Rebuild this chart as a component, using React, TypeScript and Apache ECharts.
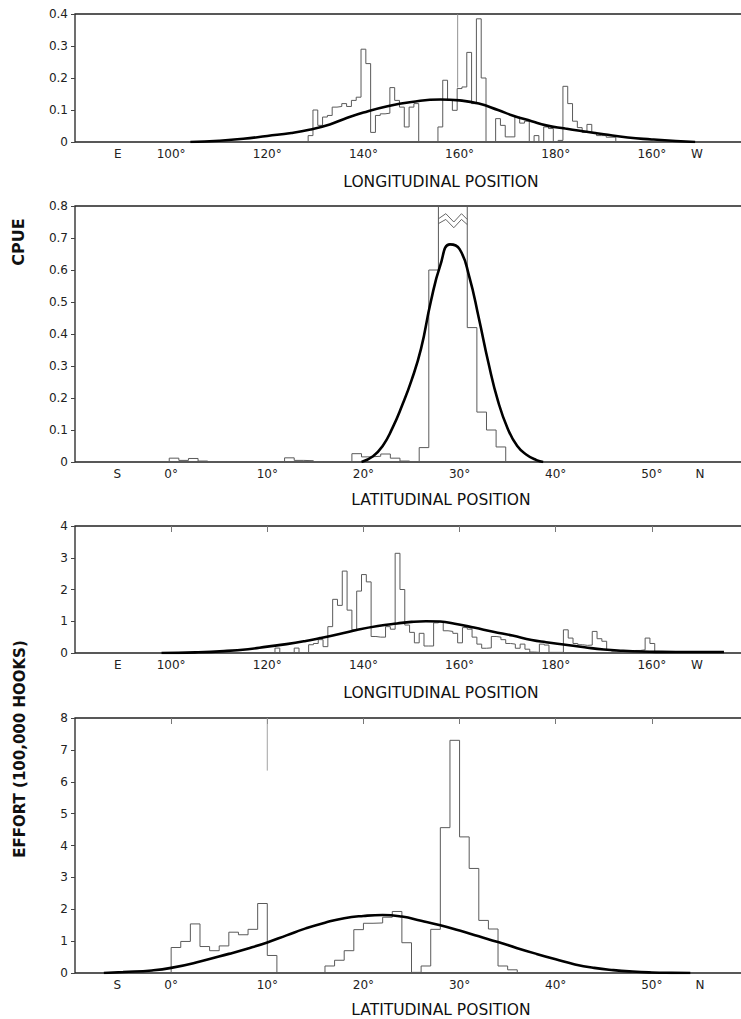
import React, { useEffect, useRef } from "react";
import * as echarts from "echarts";

// ---------- axis labels ----------
const LON_LABEL_VALUES = [88.9, 100, 120, 140, 160, 180, 200, 209.4];
const LAT_LABEL_VALUES = [-5.6, 0, 10, 20, 30, 40, 50, 55];
const LON_TOP_TICKS = [100, 120, 140, 160, 180, 200];
const LAT_TOP_TICKS = [0, 10, 20, 30, 40, 50];

// ---------- Panel 1: CPUE by longitude (1-degree bins, first left edge) ----------
const cpueLonStart = 128.5;
const cpueLonValues = [
  0.02, 0.1, 0.052, 0.078, 0.083, 0.109, 0.111, 0.12, 0.111, 0.13, 0.14, 0.29, 0.245,
  0.03, 0.083, 0.088, 0.09, 0.17, 0.13, 0.109, 0.047, 0.109, 0.12, 0, 0, 0, 0, 0.047,
  0.193, 0.13, 0.099, 0.167, 0.172, 0.28, 0.12, 0.385, 0.2, 0, 0, 0.073, 0.052, 0.016,
  0.016, 0.078, 0.059, 0.065, 0, 0.02, 0, 0.047, 0.042, 0, 0.005, 0.174, 0.12, 0.065,
  0.045, 0.03, 0.055, 0.03, 0.02, 0.02, 0.015, 0.015,
];
const cpueLonCurve = [
  [104, 0], [110, 0.004], [115, 0.01], [120, 0.019], [125, 0.028], [129, 0.039],
  [133, 0.055], [136, 0.072], [140, 0.092], [145, 0.112], [150, 0.125], [156, 0.133],
  [160, 0.13], [164, 0.12], [168, 0.1], [171, 0.083], [175, 0.065], [178, 0.052],
  [182, 0.042], [185, 0.035], [190, 0.024], [195, 0.014], [200, 0.008], [205, 0.003], [209, 0],
];

// ---------- Panel 2: CPUE by latitude ----------
const cpueLatStart = -0.2;
const cpueLatValues = [
  0.012, 0.005, 0.011, 0.003, 0, 0, 0, 0, 0, 0, 0, 0, 0.013, 0.005, 0.004, 0, 0, 0, 0,
  0.026, 0.016, 0.018, 0.025, 0.012, 0.003, 0, 0.045, 0.6, 0.95, 1.05, 0.95, 0.42,
  0.156, 0.1, 0.047,
];
const cpueLatCurve = [
  [19.8, 0], [21, 0.018], [22, 0.05], [23, 0.105], [24, 0.175], [25, 0.255], [26, 0.355],
  [27, 0.5], [28, 0.615], [29, 0.68], [30, 0.665], [31, 0.58], [32, 0.45], [33, 0.31],
  [34, 0.19], [35, 0.105], [36, 0.05], [37, 0.022], [38, 0.006], [38.7, 0],
];
const breakUpper = [[27.8, 0.76], [28.57, 0.776], [29.4, 0.75], [30.2, 0.776], [30.8, 0.758]];
const breakLower = [[27.8, 0.745], [28.57, 0.758], [29.4, 0.732], [30.2, 0.758], [30.8, 0.742]];

// ---------- Panel 3: Effort by longitude ----------
const effLonStart = 121.6;
const effLonValues = [
  0.155, 0, 0, 0, 0.155, 0, 0, 0.26, 0.3, 0.42, 0.2, 0.83, 1.69, 1.5, 2.58, 1.35, 0.73,
  1.95, 2.47, 2.24, 0.52, 0.5, 0.5, 0.83, 0.75, 3.14, 2.0, 0.88, 0.65, 0.32, 0.62, 0.22,
  0.22, 0.95, 0.98, 0.7, 0.68, 0.62, 0.32, 0.8, 0.75, 0.5, 0.28, 0.15, 0.16, 0.52, 0.5,
  0.42, 0.3, 0.28, 0.15, 0.28, 0.12, 0.03, 0.02, 0.28, 0.25, 0.02, 0.02, 0.02, 0.73,
  0.47, 0.3, 0.26, 0.24, 0.25, 0.68, 0.45, 0.37, 0.1, 0.06, 0.05, 0.05, 0.04, 0.03,
  0.08, 0.1, 0.47, 0.3, 0.05,
];
const effLonCurve = [
  [98, 0], [105, 0.02], [111, 0.06], [116, 0.12], [120, 0.2], [124, 0.28], [128, 0.38],
  [131, 0.47], [135, 0.6], [139, 0.74], [143, 0.85], [147, 0.93], [150, 0.98], [153, 1.0],
  [156, 0.99], [159, 0.92], [163, 0.8], [167, 0.67], [171, 0.55], [175, 0.41], [178, 0.34],
  [182, 0.26], [186, 0.18], [190, 0.11], [194, 0.07], [198, 0.045], [202, 0.035],
  [208, 0.03], [215, 0.03],
];

// ---------- Panel 4: Effort by latitude ----------
const effLatStart = 0;
const effLatValues = [
  0.8, 0.99, 1.54, 0.83, 0.7, 0.85, 1.28, 1.2, 1.37, 2.18, 0.55, 0, 0, 0, 0, 0, 0.22,
  0.4, 0.7, 1.36, 1.56, 1.57, 1.75, 1.93, 0.95, 0.02, 0.22, 1.37, 4.56, 7.3, 4.27, 3.28,
  1.65, 1.38, 0.22, 0.1,
];
const effLatCurve = [
  [-7, 0], [-5, 0.03], [-2, 0.08], [0, 0.16], [3, 0.36], [6, 0.6], [8, 0.77], [10, 0.96],
  [12, 1.18], [14, 1.4], [16, 1.58], [18, 1.72], [20, 1.79], [22, 1.82], [24, 1.77],
  [26, 1.64], [28, 1.5], [30, 1.33], [32, 1.15], [34, 0.97], [36, 0.78], [38, 0.6],
  [40, 0.43], [42, 0.27], [44, 0.16], [46, 0.09], [48, 0.045], [50, 0.018], [52, 0.005], [54, 0],
];

// scan artefact lines (thin vertical strokes reaching the top border)
const artefact1 = [[159.6, 0.17], [159.6, 0.4]];
const artefact4 = [[10, 6.35], [10, 8]];

const BIN = 1;

function histPoints(start: number, width: number, values: number[]) {
  const pts: number[][] = [[start, 0]];
  values.forEach((v, i) => {
    const a = start + i * width;
    pts.push([a, v], [a + width, v]);
  });
  pts.push([start + values.length * width, 0]);
  return pts;
}

const FONT = "DejaVu Sans";

export default function App() {
  const ref = useRef<HTMLDivElement>(null);
  useEffect(() => {
    if (!ref.current) return;
    const chart = echarts.init(ref.current, undefined, { renderer: "svg" });

    const grids = [
      { top: 14, height: 128 },
      { top: 206, height: 256 },
      { top: 526, height: 127 },
      { top: 718, height: 255 },
    ].map((g) => ({
      left: 75,
      right: 2,
      top: g.top,
      height: g.height,
      show: true,
      borderColor: "#222",
      borderWidth: 1.3,
      backgroundColor: "transparent",
    }));

    const lonFmt = (v: number) =>
      v < 95 ? "E" : v > 205 ? "W" : (v <= 180 ? Math.round(v) : Math.round(360 - v)) + "°";
    const latFmt = (v: number) => (v < -3 ? "S" : v > 52 ? "N" : Math.round(v) + "°");

    const isLon = [true, false, true, false];
    const xAxes: any[] = [];
    isLon.forEach((lon, i) => {
      xAxes.push({
        type: "value",
        gridIndex: i,
        min: lon ? 80 : -10,
        max: lon ? 220 : 60,
        axisLine: { show: false, onZero: false },
        axisTick: { show: false },
        splitLine: { show: false },
        axisLabel: {
          customValues: lon ? LON_LABEL_VALUES : LAT_LABEL_VALUES,
          formatter: lon ? lonFmt : latFmt,
          fontFamily: FONT,
          fontSize: 12,
          color: "#222",
          margin: 6,
        },
      });
    });
    // top inner ticks for the effort panels
    [2, 3].forEach((i) => {
      const lon = isLon[i];
      xAxes.push({
        type: "value",
        gridIndex: i,
        position: "top",
        min: lon ? 80 : -10,
        max: lon ? 220 : 60,
        axisLine: { show: false, onZero: false },
        axisLabel: { show: false },
        splitLine: { show: false },
        axisTick: {
          show: true,
          inside: true,
          length: 6,
          customValues: lon ? LON_TOP_TICKS : LAT_TOP_TICKS,
          lineStyle: { color: "#777", width: 1 },
        },
      });
    });

    const yMax = [0.4, 0.8, 4, 8];
    const yInt = [0.1, 0.1, 1, 1];
    const yAxes = yMax.map((m, i) => ({
      type: "value",
      gridIndex: i,
      min: 0,
      max: m,
      interval: yInt[i],
      axisLine: { show: false, onZero: false },
      axisTick: { show: true, length: 4, lineStyle: { color: "#444" } },
      splitLine: { show: false },
      axisLabel: {
        fontFamily: FONT,
        fontSize: 12,
        color: "#222",
        margin: 7,
        formatter: (v: number) => (i < 2 ? (v === 0 ? "0" : v.toFixed(1)) : String(Math.round(v))),
      },
    }));

    const histStyle = { color: "#5a5a5a", width: 1 };
    const curveStyle = { color: "#000", width: 2.6 };
    const hist = (idx: number, data: number[][]) => ({
      type: "line",
      xAxisIndex: idx,
      yAxisIndex: idx,
      data,
      symbol: "none",
      lineStyle: histStyle,
      silent: true,
    });
    const curve = (idx: number, data: number[][]) => ({
      type: "line",
      xAxisIndex: idx,
      yAxisIndex: idx,
      data,
      symbol: "none",
      smooth: 0.5,
      lineStyle: curveStyle,
      silent: true,
    });
    const thin = (idx: number, data: number[][], color = "#666") => ({
      type: "line",
      xAxisIndex: idx,
      yAxisIndex: idx,
      data,
      symbol: "none",
      lineStyle: { color, width: 0.9 },
      silent: true,
    });

    const series = [
      hist(0, histPoints(cpueLonStart, BIN, cpueLonValues)),
      curve(0, cpueLonCurve),
      thin(0, artefact1, "#888"),
      hist(1, histPoints(cpueLatStart, BIN, cpueLatValues)),
      curve(1, cpueLatCurve),
      thin(1, breakUpper, "#555"),
      thin(1, breakLower, "#555"),
      hist(2, histPoints(effLonStart, BIN, effLonValues)),
      curve(2, effLonCurve),
      hist(3, histPoints(effLatStart, BIN, effLatValues)),
      curve(3, effLatCurve),
      thin(3, artefact4, "#999"),
    ];

    const titleText = (text: string, y: number) => ({
      type: "text",
      x: 441,
      y,
      style: {
        text,
        fill: "#111",
        fontFamily: FONT,
        fontSize: 15.5,
        textAlign: "center",
        textVerticalAlign: "middle",
        align: "center",
        verticalAlign: "middle",
      },
    });
    const yTitle = (text: string, x: number, y: number, size: number) => ({
      type: "text",
      x,
      y,
      rotation: Math.PI / 2,
      style: {
        text,
        fill: "#111",
        fontFamily: FONT,
        fontSize: size,
        fontWeight: "bold",
        textAlign: "center",
        textVerticalAlign: "middle",
        align: "center",
        verticalAlign: "middle",
      },
    });

    chart.setOption({
      animation: false,
      backgroundColor: "#fff",
      grid: grids,
      xAxis: xAxes,
      yAxis: yAxes,
      series,
      graphic: [
        titleText("LONGITUDINAL POSITION", 182),
        titleText("LATITUDINAL POSITION", 500),
        titleText("LONGITUDINAL POSITION", 693),
        titleText("LATITUDINAL POSITION", 1010),
        yTitle("CPUE", 18, 242, 16),
        yTitle("EFFORT (100,000 HOOKS)", 20, 749, 15),
      ],
    });
    return () => chart.dispose();
  }, []);

  return (
    <div
      style={{
        position: "fixed",
        left: 0,
        top: 0,
        width: 741,
        height: 1019,
        overflow: "hidden",
        background: "#fff",
      }}
    >
      <div ref={ref} style={{ width: 750, height: 1019 }} />
    </div>
  );
}
